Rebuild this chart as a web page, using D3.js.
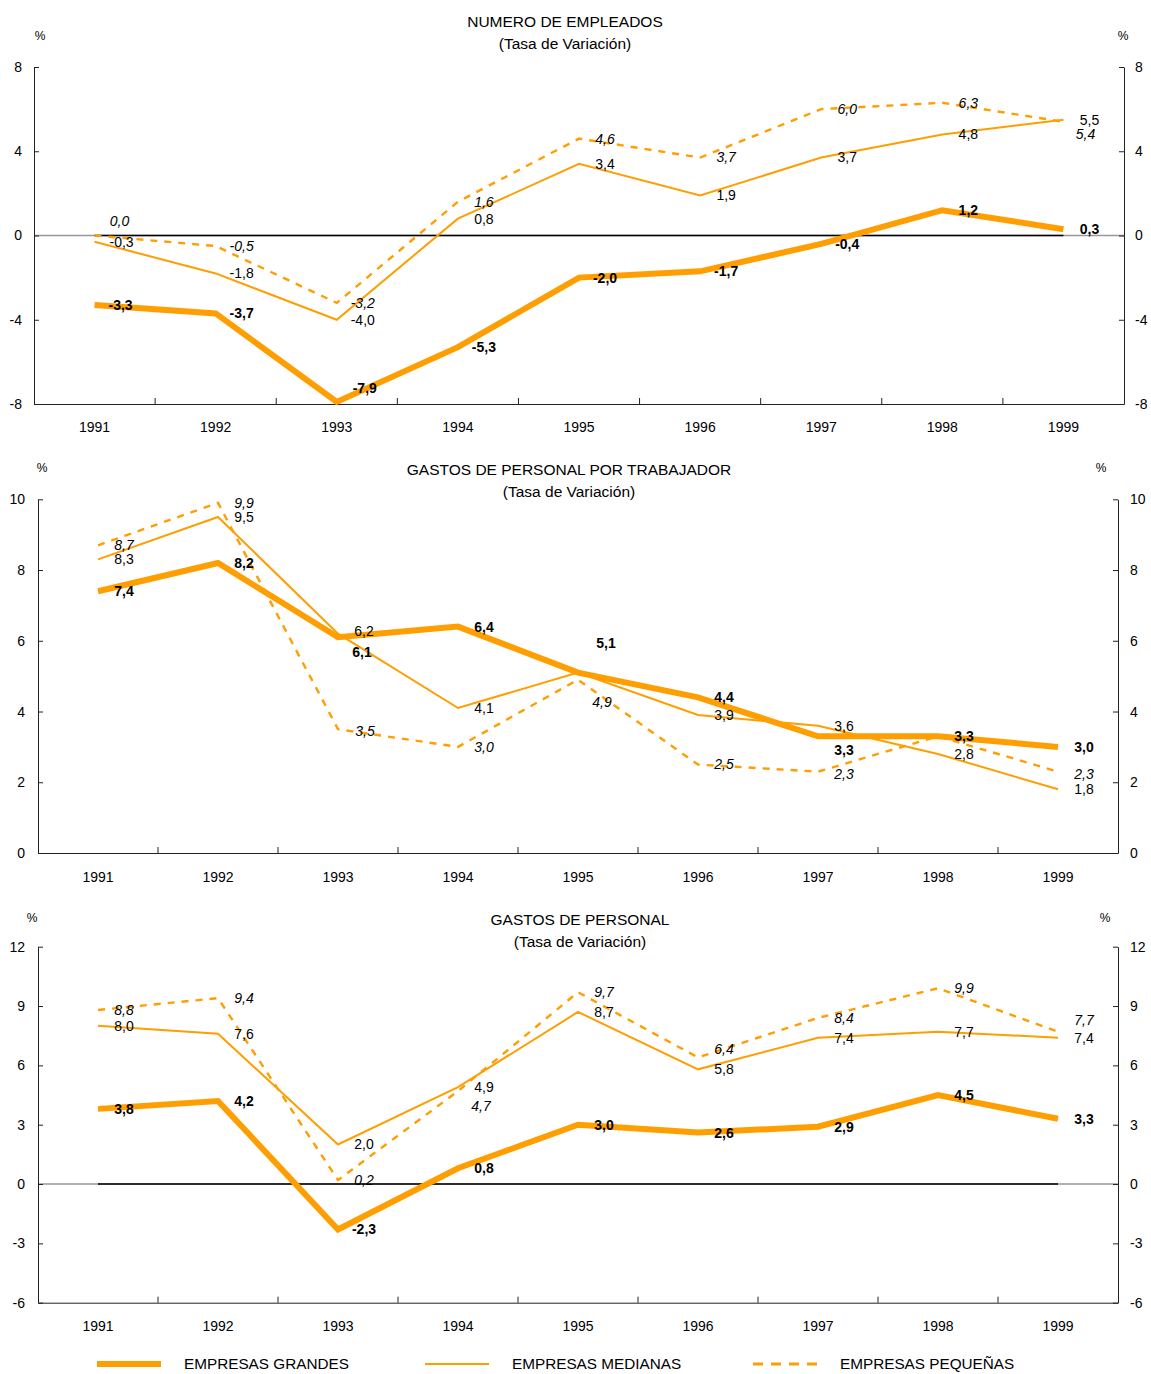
<!DOCTYPE html>
<html><head><meta charset="utf-8">
<script src="https://cdn.jsdelivr.net/npm/d3@7"></script>
<style>
body{margin:0;background:#fff;}
svg{font-family:"Liberation Sans",Arial,sans-serif;}
</style></head>
<body>
<svg id="c" width="1151" height="1374"></svg>
<script>
// ---------- data ----------
const years = ["1991","1992","1993","1994","1995","1996","1997","1998","1999"];

// Chart 1: NUMERO DE EMPLEADOS
const empGrandes  = [-3.3,-3.7,-7.9,-5.3,-2.0,-1.7,-0.4,1.2,0.3];
const empMedianas = [-0.3,-1.8,-4.0,0.8,3.4,1.9,3.7,4.8,5.5];
const empPequenas = [0.0,-0.5,-3.2,1.6,4.6,3.7,6.0,6.3,5.4];
const empTicks = [-8,-4,0,4,8];

// Chart 2: GASTOS DE PERSONAL POR TRABAJADOR
const gptGrandes  = [7.4,8.2,6.1,6.4,5.1,4.4,3.3,3.3,3.0];
const gptMedianas = [8.3,9.5,6.2,4.1,5.1,3.9,3.6,2.8,1.8];
const gptPequenas = [8.7,9.9,3.5,3.0,4.9,2.5,2.3,3.3,2.3];
const gptTicks = [0,2,4,6,8,10];

// Chart 3: GASTOS DE PERSONAL
const gpGrandes  = [3.8,4.2,-2.3,0.8,3.0,2.6,2.9,4.5,3.3];
const gpMedianas = [8.0,7.6,2.0,4.9,8.7,5.8,7.4,7.7,7.4];
const gpPequenas = [8.8,9.4,0.2,4.7,9.7,6.4,8.4,9.9,7.7];
const gpTicks = [-6,-3,0,3,6,9,12];

const seriesNames = ["EMPRESAS GRANDES","EMPRESAS MEDIANAS","EMPRESAS PEQUEÑAS"];

// ---------- layout / styling ----------
const ORANGE = "#FF9E00";
const styles = {
  g: {w:6, dash:null, weight:"bold", italic:false},
  m: {w:2, dash:null, weight:"normal", italic:false},
  p: {w:2.4, dash:"7,7", weight:"normal", italic:true}
};

// label nudges (pixel offsets) keyed "series:index"; "hide" hides a label
const charts = [
  {title:"NUMERO DE EMPLEADOS", titleX:565, titleY:27,
   left:34, right:1124, top:67, bottom:404, domain:[-8,8], ticks:empTicks,
   lpad:12, rpad:11, xpad:18, pctL:[40,40], pctR:[1123,40], zeroLine:true,
   series:{g:empGrandes, m:empMedianas, p:empPequenas},
   nudge:{"g:2":[2,-14],"p:0":[-1,-14],"p:8":[-4,12],"m:8":[0,0],"m:0":[1,0]}},
  {title:"GASTOS DE PERSONAL POR TRABAJADOR", titleX:569, titleY:475,
   left:38, right:1118, top:499.3, bottom:853, domain:[0,10], ticks:gptTicks,
   lpad:13, rpad:12, xpad:19, pctL:[42,472], pctR:[1101,472], zeroLine:false,
   series:{g:gptGrandes, m:gptMedianas, p:gptPequenas},
   nudge:{"g:2":[-2,15],"m:2":[0,-3],"g:4":[2,-30],"m:4":"hide","p:4":[-2,22],
          "g:6":[0,14],"p:7":"hide","p:6":[0,2],"p:8":[0,2],"p:2":[1,2]}},
  {title:"GASTOS DE PERSONAL", titleX:580, titleY:925,
   left:38, right:1118, top:946.7, bottom:1302.7, domain:[-6,12], ticks:gpTicks,
   lpad:13, rpad:12, xpad:18.5, pctL:[32,922], pctR:[1105,922], zeroLine:true,
   series:{g:gpGrandes, m:gpMedianas, p:gpPequenas},
   nudge:{"p:3":[-3,15],"p:5":[0,-8],"p:8":[0,-12]}}
];

const svg = d3.select("#c");
const fmt = v => (v < 0 ? "-" : "") + Math.abs(v).toFixed(1).replace(".", ",");
const tickFmt = d => (d < 0 ? "-" : "") + Math.abs(d);

charts.forEach(cfg => {
  const g = svg.append("g");
  const x = d3.scaleBand().domain(years).range([cfg.left, cfg.right]);
  const cx = d => x(d) + x.bandwidth()/2;
  const y = d3.scaleLinear().domain(cfg.domain).range([cfg.bottom, cfg.top]);

  // titles
  g.append("text").attr("x", cfg.titleX).attr("y", cfg.titleY).attr("text-anchor","middle")
    .attr("font-size",15.5).text(cfg.title);
  g.append("text").attr("x", cfg.titleX).attr("y", cfg.titleY+22).attr("text-anchor","middle")
    .attr("font-size",15.5).text("(Tasa de Variación)");
  g.append("text").attr("x", cfg.pctL[0]).attr("y", cfg.pctL[1]).attr("text-anchor","middle")
    .attr("font-size",12).text("%");
  g.append("text").attr("x", cfg.pctR[0]).attr("y", cfg.pctR[1]).attr("text-anchor","middle")
    .attr("font-size",12).text("%");

  // zero line
  if (cfg.zeroLine) {
    g.append("line").attr("x1",cfg.left).attr("x2",cfg.right)
      .attr("y1",y(0)).attr("y2",y(0)).attr("stroke","#999").attr("stroke-width",1.5);
    g.append("line").attr("x1",cx(years[0])).attr("x2",cx(years[years.length-1]))
      .attr("y1",y(0)).attr("y2",y(0)).attr("stroke","#000").attr("stroke-width",1.5);
  }

  // axes
  const axL = g.append("g").attr("transform",`translate(${cfg.left},0)`)
    .call(d3.axisLeft(y).tickValues(cfg.ticks).tickSize(-5).tickSizeOuter(0)
      .tickPadding(cfg.lpad).tickFormat(tickFmt));
  const axR = g.append("g").attr("transform",`translate(${cfg.right},0)`)
    .call(d3.axisRight(y).tickValues(cfg.ticks).tickSize(-5).tickSizeOuter(0)
      .tickPadding(cfg.rpad).tickFormat(tickFmt));
  const axB = g.append("g").attr("transform",`translate(0,${cfg.bottom})`)
    .call(d3.axisBottom(x).tickSize(0).tickSizeOuter(0).tickPadding(cfg.xpad));
  [axL,axR,axB].forEach(a => {
    a.selectAll("text").attr("font-size",14).attr("fill","#000")
      .attr("font-family","'Liberation Sans',Arial,sans-serif");
    a.selectAll("line").attr("stroke","#222");
    a.select(".domain").attr("stroke","#222");
  });
  // category boundary ticks
  g.append("g").selectAll("line").data(years.slice(1)).join("line")
    .attr("x1", d => x(d)).attr("x2", d => x(d))
    .attr("y1", cfg.bottom).attr("y2", cfg.bottom-6).attr("stroke","#222");

  // lines
  const line = d3.line().x((d,i) => cx(years[i])).y(d => y(d)).curve(d3.curveLinear);
  ["p","m","g"].forEach(k => {
    const st = styles[k];
    g.append("path").attr("d", line(cfg.series[k])).attr("fill","none")
      .attr("stroke", ORANGE).attr("stroke-width", st.w)
      .attr("stroke-dasharray", st.dash).attr("stroke-linejoin","miter");
  });

  // labels
  ["p","m","g"].forEach(k => {
    const st = styles[k];
    cfg.series[k].forEach((v,i) => {
      const n = cfg.nudge[k+":"+i];
      if (n === "hide") return;
      const [dx,dy] = n || [0,0];
      g.append("text").attr("x", cx(years[i]) + 26 + dx).attr("y", y(v) + dy)
        .attr("dy","0.35em").attr("text-anchor","middle").attr("font-size",14)
        .attr("font-weight", st.weight).attr("font-style", st.italic ? "italic" : "normal")
        .attr("fill","#000").text(fmt(v));
    });
  });
});

// legend
const legX = [97, 425, 753];
const leg = svg.append("g");
["g","m","p"].forEach((k,i) => {
  const st = styles[k];
  leg.append("line").attr("x1",legX[i]).attr("x2",legX[i]+64).attr("y1",1364).attr("y2",1364)
    .attr("stroke",ORANGE).attr("stroke-width", k==="p" ? 3 : st.w)
    .attr("stroke-dasharray", k==="p" ? "10,8" : null);
  leg.append("text").attr("x",legX[i]+87).attr("y",1364).attr("dy","0.35em")
    .attr("font-size",15.3).attr("fill","#000").text(seriesNames[i]);
});
</script>
</body></html>
